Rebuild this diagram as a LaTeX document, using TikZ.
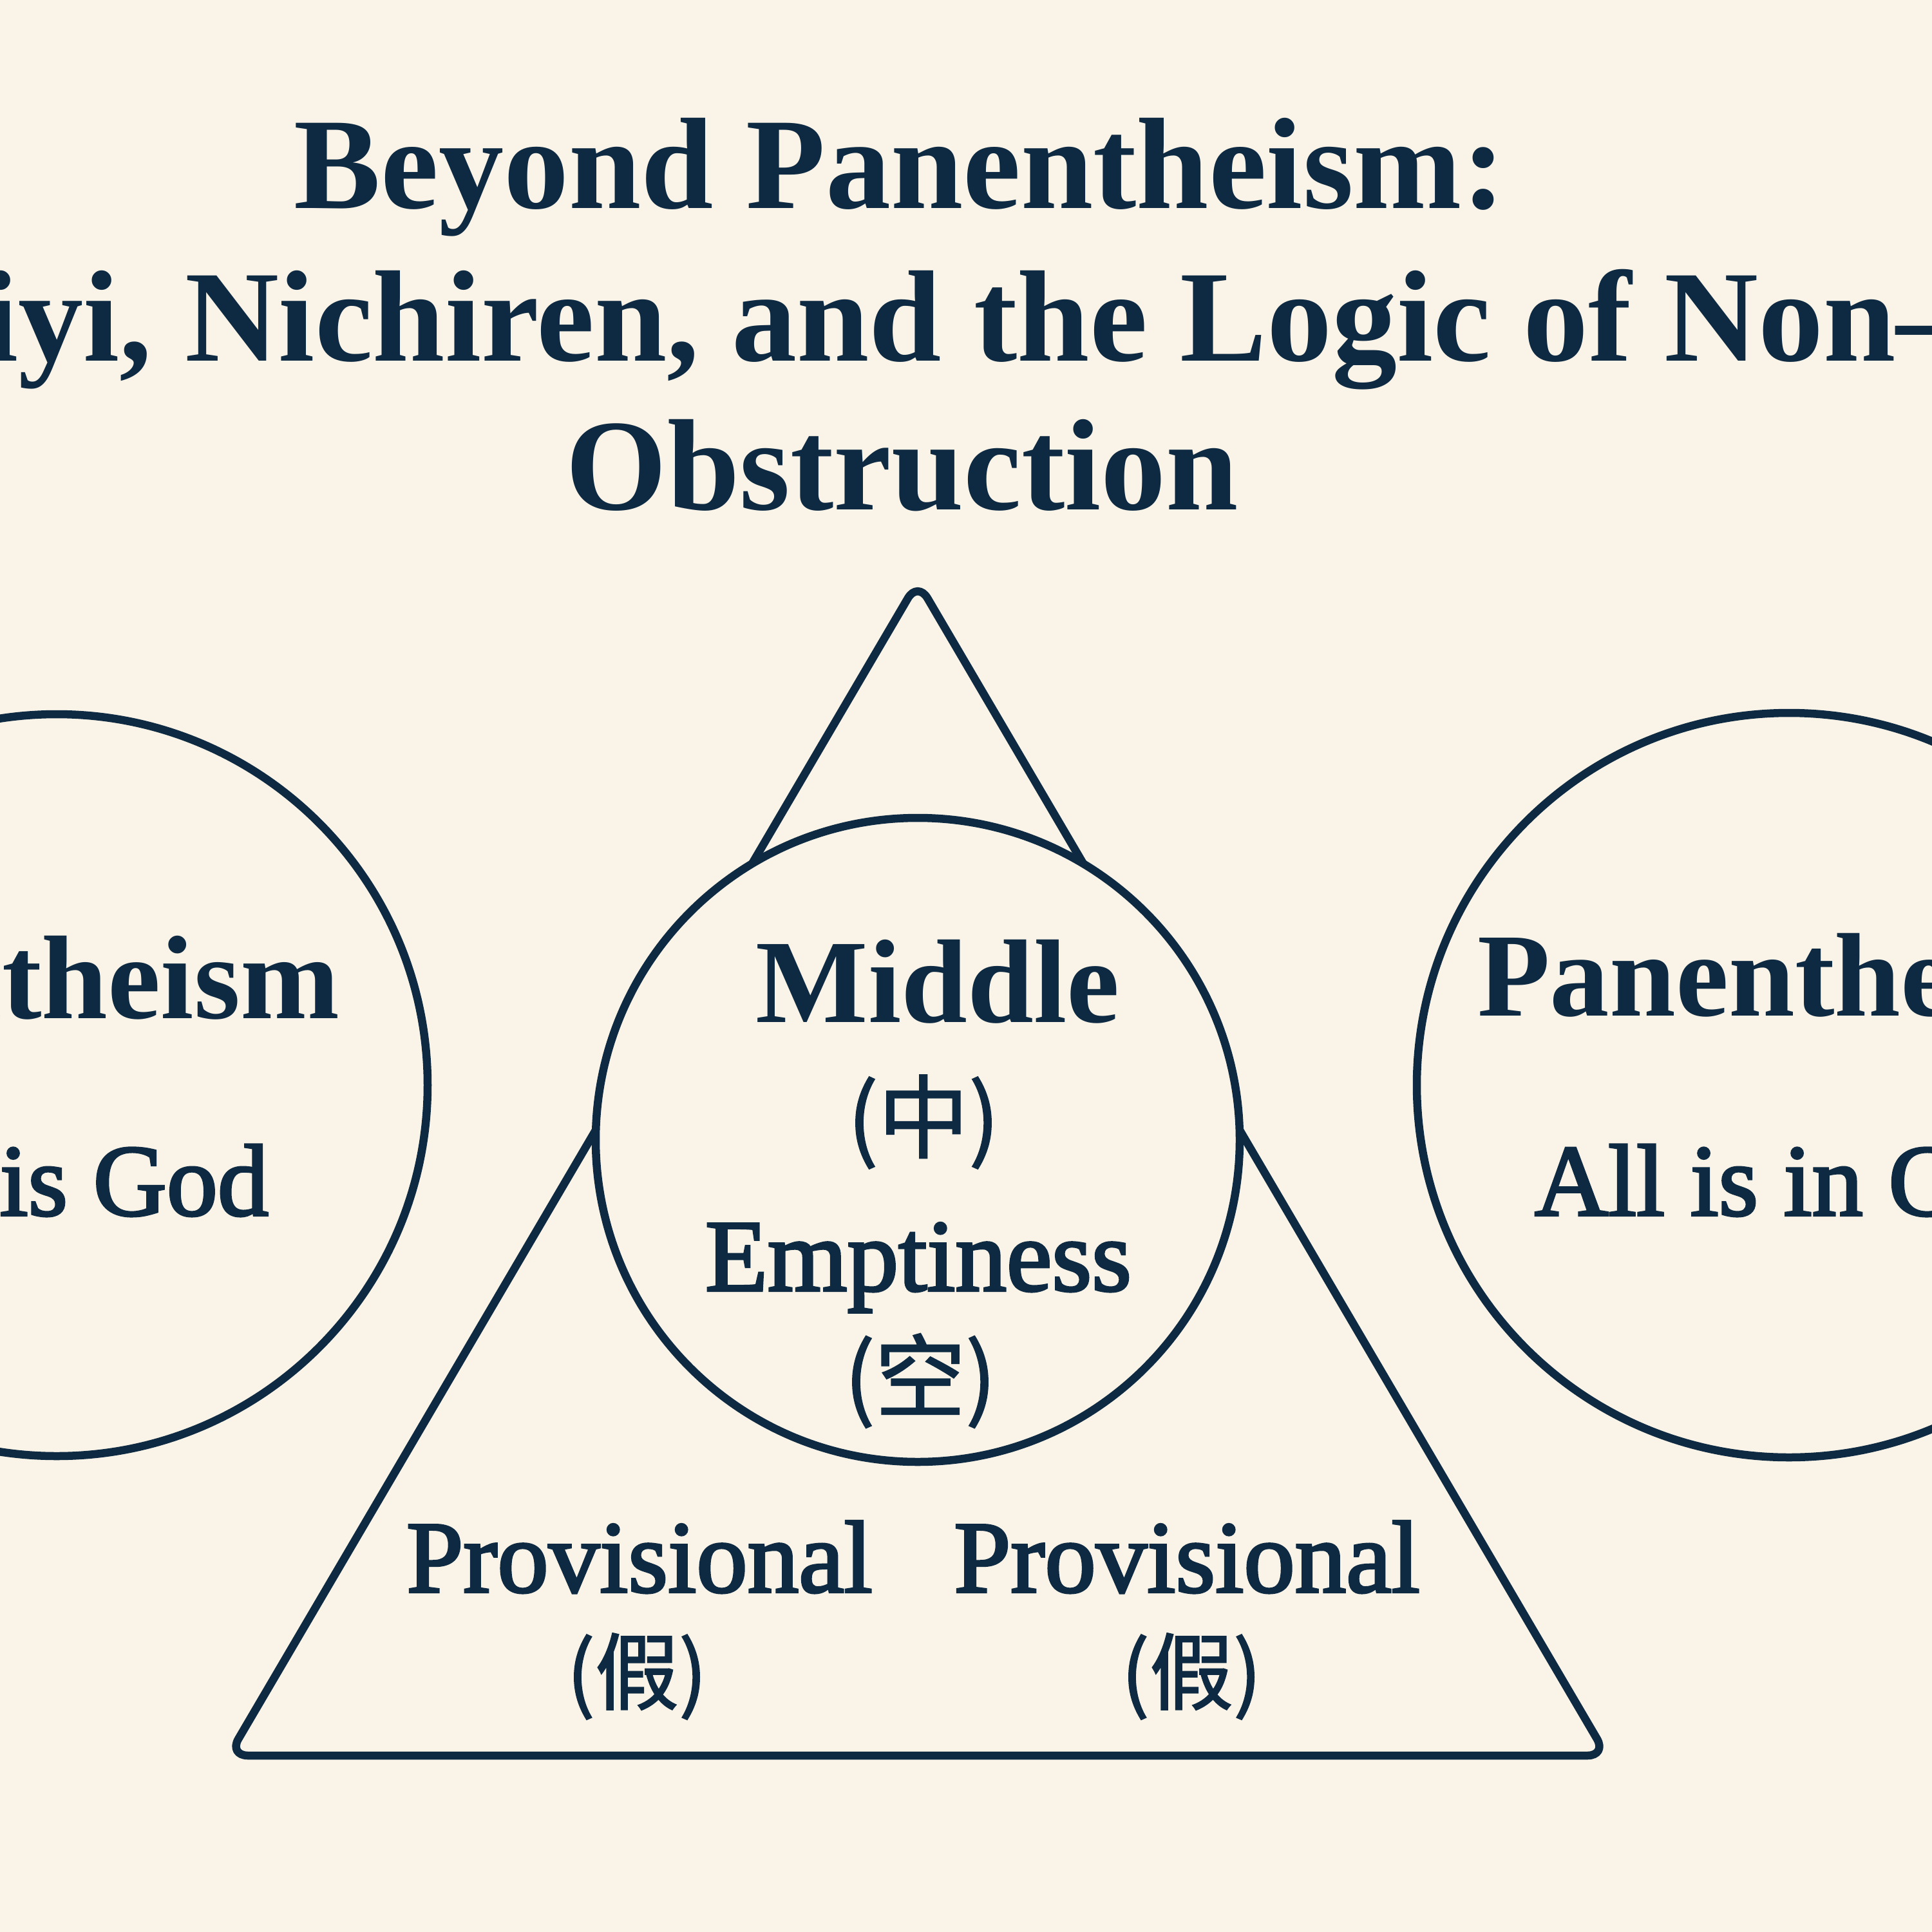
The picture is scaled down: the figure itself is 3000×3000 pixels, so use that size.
\documentclass[tikz,border=0pt]{standalone}
\usepackage{fontspec}
\setmainfont{Liberation Serif}
\newfontfamily\medserif[FakeBold=2.5]{Liberation Serif}
\newfontfamily\cjkfont[FakeBold=1.5]{Noto Sans CJK SC}
\definecolor{ink}{HTML}{0E2A42}
\definecolor{paper}{HTML}{FAF4E8}
\begin{document}
\begin{tikzpicture}[x=0.1mm,y=-0.1mm,
  ring/.style={circle, draw=ink, line width=1.25mm, inner sep=0pt, outer sep=0pt},
  edgeline/.style={draw=ink, line width=1.25mm, line join=round, rounded corners=3mm},
  lbl/.style={text=ink, inner sep=0pt, outer sep=0pt},
  titletext/.style={lbl, font=\fontsize{57.5pt}{60pt}\selectfont\bfseries},
  headtext/.style={lbl, font=\fontsize{52.6pt}{54pt}\selectfont\bfseries},
  subtext/.style={lbl, font=\fontsize{45pt}{47pt}\selectfont\medserif},
  midtext/.style={lbl, font=\fontsize{45.2pt}{47pt}\selectfont\medserif},
  cjktext/.style={lbl, font=\fontsize{40pt}{42pt}\selectfont\cjkfont},
  cjksmall/.style={lbl, font=\fontsize{37pt}{39pt}\selectfont\cjkfont}]
\path[use as bounding box, fill=paper] (0,0) rectangle (3000,3000);
\clip (0,0) rectangle (3000,3000);

% title
\node[titletext, anchor=base] (t1) at (1397,324) {Beyond Panentheism:};
\node[titletext, anchor=base west] (t2) at (287,561) {\llap{Zhiyi, }Nichiren, and the Logic of Non–};
\node[titletext, anchor=base] (t3) at (1401,791) {Obstruction};

% side circles
\node[ring, minimum size=115.2mm] (pan) at (88,1685) {};
\node[ring, minimum size=115.6mm] (panen) at (2778,1685) {};

% triangle
\coordinate (apex) at (1425,903);
\coordinate (bl) at (355,2726);
\coordinate (br) at (2495,2726);
\path[edgeline] (apex) -- (bl) -- (br) -- cycle;

% middle circle
\node[ring, fill=paper, minimum size=100mm] (middle) at (1425,1770) {};

% left circle text
\node[headtext, anchor=base east] (pantheism) at (527,1581) {Pantheism};
\node[subtext, anchor=base east] (allisgod) at (417,1887) {All is God};

% right circle text
\node[headtext, anchor=base west] (panentheism) at (2294,1577) {Panentheism};
\node[subtext, anchor=base west] (allisingod) at (2383,1887) {All is in God};

% middle circle text
\node[headtext, anchor=base] (mid) at (1456,1587) {Middle};
\node[cjktext, anchor=center] (midc) at (1434,1742) {(中)};
\node[midtext, anchor=base] (emp) at (1426,2004) {Emptiness};
\node[cjktext, anchor=center] (empc) at (1429,2144) {(空)};

% provisional
\node[midtext, anchor=base] (prov1) at (993,2472) {Provisional};
\node[midtext, anchor=base] (prov2) at (1843,2472) {Provisional};
\node[cjksmall, anchor=center] (prov1c) at (989,2603) {(假)};
\node[cjksmall, anchor=center] (prov2c) at (1850,2603) {(假)};
\end{tikzpicture}
\end{document}
